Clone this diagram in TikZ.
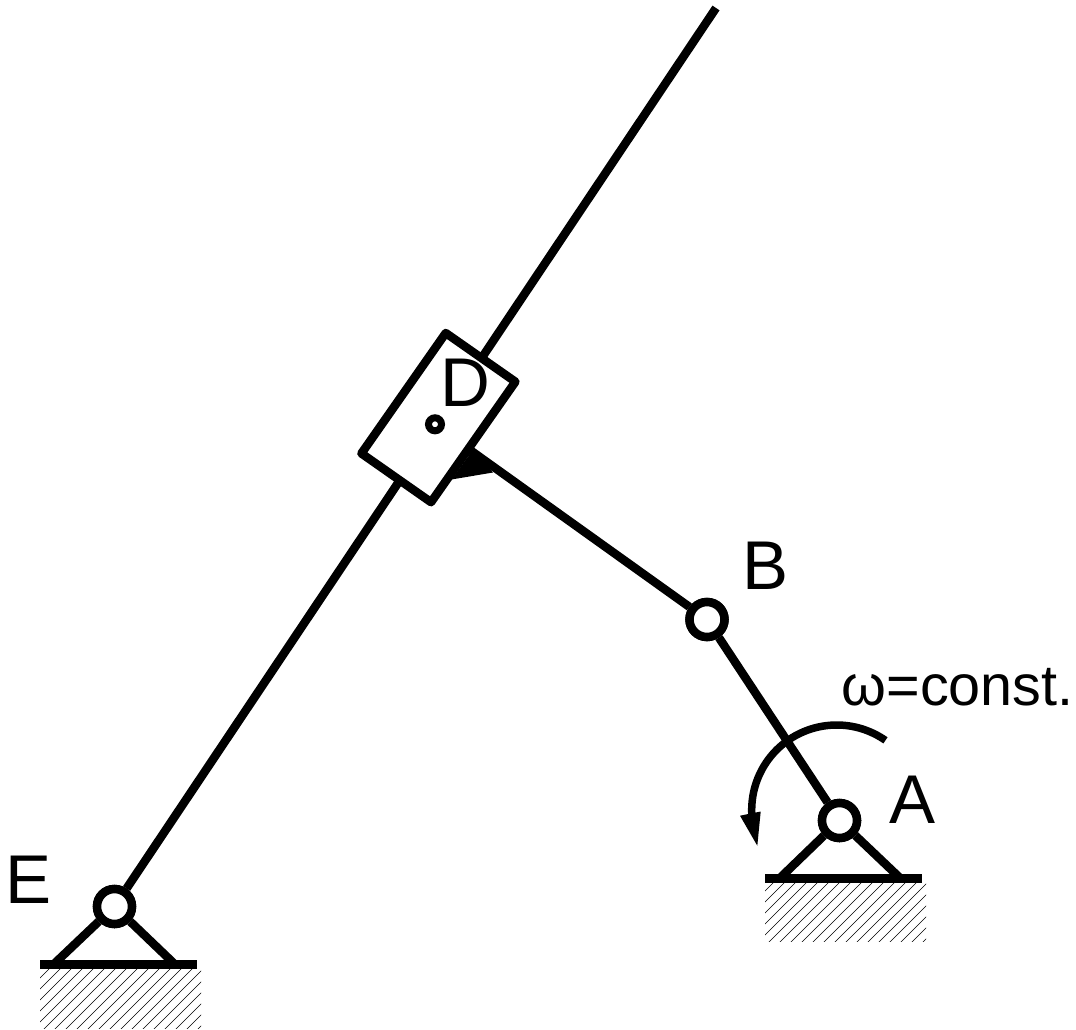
\documentclass[tikz,border=0pt]{standalone}
\usepackage{fontspec}
\setmainfont{Liberation Sans}
\begin{document}
\begin{tikzpicture}[x=1pt,y=-1pt,
  bar/.style={line width=8.5pt,black},
  hatchline/.style={line width=0.65pt,black},
  hinge/.style={circle,draw=black,fill=white,line width=8.5pt,minimum size=35pt,inner sep=0pt},
  pin/.style={circle,draw=black,fill=white,line width=7pt,minimum size=13pt,inner sep=0pt},
  slider/.style={rectangle,draw=black,fill=white,line width=8.5pt,line join=round,minimum width=85pt,minimum height=147pt,inner sep=0pt,rotate=-35},
  lbl/.style={font=\fontsize{69}{69}\selectfont,anchor=base,inner sep=0pt,text=black},
  lblsmall/.style={font=\fontsize{57.5}{57.5}\selectfont,anchor=base,inner sep=0pt,text=black}]
\useasboundingbox (0,0) rectangle (1076,1030);
% ground hatching
\begin{scope}
  \clip (765,882) rectangle (926,941);
  \foreach \k in {0,...,22}{\draw[hatchline] (700+11*\k,945) -- (770+11*\k,875);}
\end{scope}
\begin{scope}
  \clip (40,968) rectangle (201,1028);
  \foreach \k in {0,...,22}{\draw[hatchline] (-25+11*\k,1032) -- (45+11*\k,962);}
\end{scope}
% nodes placed first so connectors can refer to them
\node[hinge] (A) at (839.5,820.5) {};
\node[hinge] (B) at (707,619.5) {};
\node[hinge] (E) at (114.5,906.5) {};
\coordinate (top) at (716,8);
\coordinate (J) at (470,450);
\coordinate (AL) at (781,877);
\coordinate (AR) at (899,877);
\coordinate (EL) at (55,963);
\coordinate (ER) at (173.5,963);
\coordinate (BL1) at (765,878.5);
\coordinate (BR1) at (922,878.5);
\coordinate (BL2) at (40,964.5);
\coordinate (BR2) at (197,964.5);
% links
\draw[bar] (E) -- (top);
\draw[bar] (B) -- (J);
\draw[bar] (B) -- (A);
\draw[bar] (A) -- (AL);
\draw[bar] (A) -- (AR);
\draw[bar] (E) -- (EL);
\draw[bar] (E) -- (ER);
\draw[bar] (BL1) -- (BR1);
\draw[bar] (BL2) -- (BR2);
% weld
\fill[black] (473.5,449) -- (451.5,479.5) -- (493,472.5) -- cycle;
% slider
\node[slider] (S) at (438.4,417.6) {};
\node[pin] (Dp) at (435,424.3) {};
% redraw hinges over the links
\node[hinge] at (A) {};
\node[hinge] at (B) {};
\node[hinge] at (E) {};
% rotation arrow
\draw[line width=7.5pt,black] plot[smooth,samples=60,domain=55:186] ({836.7+85*cos(\x)},{810-85*sin(\x)});
\fill[black] (740,815.7) -- (760.7,811.5) -- (757.3,845.7) -- cycle;
% labels
\node[lbl] (LA) at (912.5,823) {A};
\node[lbl] (LB) at (765.5,589) {B};
\node[lbl] (LD) at (465.5,406) {D};
\node[lbl] (LE) at (28.5,903) {E};
\node[lblsmall] (LW) at (957.5,705) {ω=const.};
\end{tikzpicture}
\end{document}
